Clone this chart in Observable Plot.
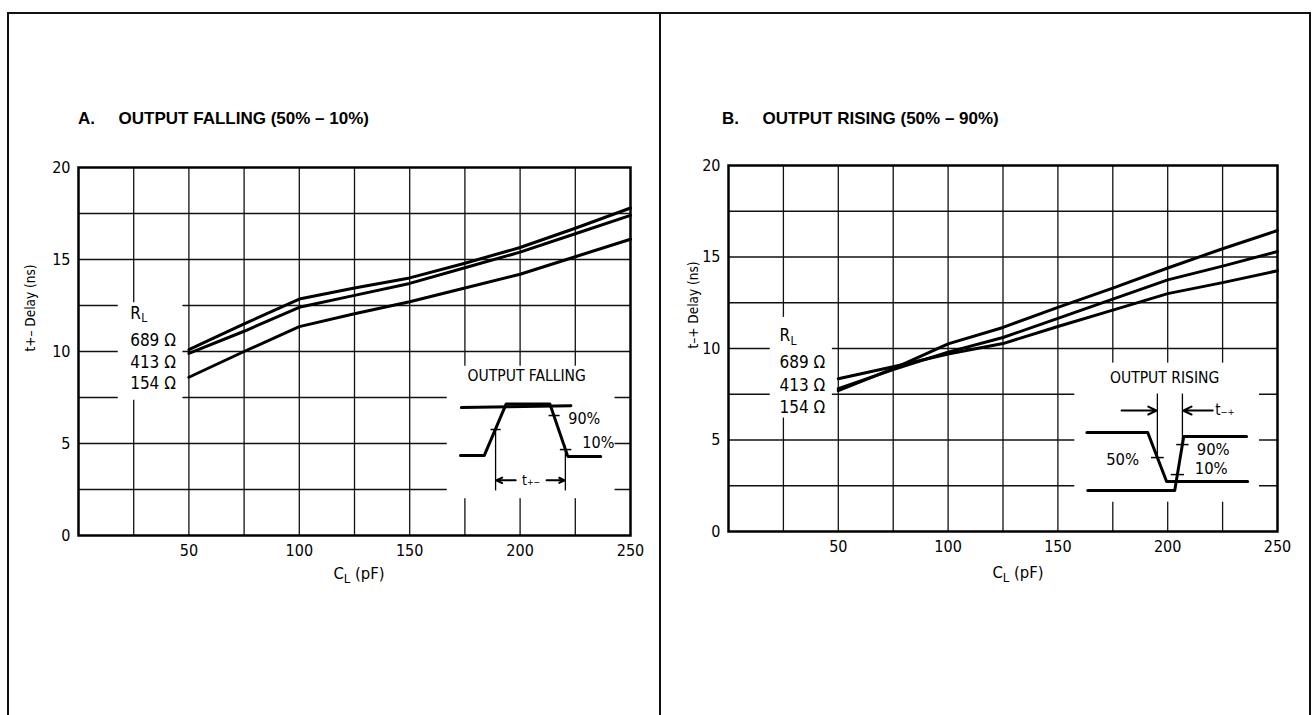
<!DOCTYPE html>
<html><head><meta charset="utf-8">
<script src="https://cdn.jsdelivr.net/npm/d3@7"></script>
<script src="https://cdn.jsdelivr.net/npm/@observablehq/plot@0.6"></script>
<style>
body{margin:0;background:#fff;}
#page{position:relative;width:1312px;height:715px;overflow:hidden;background:#fff;color:#000;font-family:"Liberation Sans",Arial,sans-serif}
.bd{position:absolute;background:#111}
.title{position:absolute;font-weight:bold;font-size:17px;white-space:pre;line-height:1;transform:translateY(-50%)}
.chart{position:absolute;top:140px}
.xlab{position:absolute;font-family:"Liberation Sans Narrow","DejaVu Sans Condensed",sans-serif;font-size:16.5px;white-space:nowrap;transform:translate(-50%,-50%)}
.xlab sub{font-size:13px;vertical-align:-4px;line-height:0}
</style></head>
<body><div id="page">
<div class="bd" style="left:7px;top:12px;width:1304px;height:2px"></div>
<div class="bd" style="left:7px;top:12px;width:2px;height:703px"></div>
<div class="bd" style="left:659px;top:12px;width:2px;height:703px"></div>
<div class="bd" style="left:1309px;top:12px;width:2px;height:703px"></div>
<div class="title" id="tA" style="left:78px;top:118px"></div>
<div class="title" id="tB" style="left:722px;top:118px"></div>
<div class="xlab" style="left:359px;top:573px">C<sub>L</sub> (pF)</div>
<div class="xlab" style="left:1018px;top:572px">C<sub>L</sub> (pF)</div>
</div>
<script>
// ---------- data ----------
const titleA = "A.     OUTPUT FALLING (50% \u2013 10%)";
const titleB = "B.     OUTPUT RISING (50% \u2013 90%)";
const yLabelA = "t+\u2013 Delay (ns)";
const yLabelB = "t\u2013+ Delay (ns)";
const xTicks = [50, 100, 150, 200, 250];
const yTicks = [0, 5, 10, 15, 20];
const gridX = [25, 50, 75, 100, 125, 150, 175, 200, 225];
const gridY = [2.5, 5, 7.5, 10, 12.5, 15, 17.5];
const loads = ["689 \u03a9", "413 \u03a9", "154 \u03a9"];
const capacitance = [50, 75, 100, 125, 150, 175, 200, 225, 250];
// A: output falling, t+- delay (ns)
const fallA689 = [10.1, 11.5, 12.85, 13.45, 14.0, 14.8, 15.65, 16.7, 17.8];
const fallA413 = [9.9, 11.1, 12.4, 13.05, 13.7, 14.55, 15.4, 16.4, 17.4];
const fallA154 = [8.6, 10.0, 11.35, 12.05, 12.7, 13.45, 14.2, 15.15, 16.1];
// B: output rising, t-+ delay (ns)
const riseB689 = [7.7, 8.9, 10.25, 11.15, 12.25, 13.3, 14.4, 15.45, 16.45];
const riseB413 = [7.8, 8.85, 9.8, 10.6, 11.65, 12.7, 13.75, 14.5, 15.3];
const riseB154 = [8.35, 9.0, 9.7, 10.27, 11.2, 12.1, 13.0, 13.6, 14.25];
// legend blocks (data units)
const legendBoxA = [18, 47.3, 7.35, 12.65];
const legendPosA = {x: 23.4, yR: 12.07, y: [10.6, 9.4, 8.26]};
const legendBoxB = [19, 47.3, 6.2, 11.7];
const legendPosB = {x: 23.2, yR: 10.7, y: [9.23, 7.98, 6.78]};
// inset A: "OUTPUT FALLING" waveform sketch
const insetBoxA = [167, 243, 2.0, 9.2];
const pulseAx = [173, 183.8, 193.7, 213.5, 221.6, 236.5];
const pulseAy = [4.35, 4.35, 7.15, 7.15, 4.3, 4.3];
const refAx = [173.4, 223];
const refAy = [6.95, 7.05];
const tickAx1 = [186.6, 212.9, 218.0];
const tickAx2 = [191.2, 217.9, 223.2];
const tickAy = [5.76, 6.52, 4.67];
const markAx = [188.9, 220.5];
const markAy1 = [5.76, 4.9];
const markAy2 = [2.45, 2.45];
const arrowAx1 = [198, 212];
const arrowAx2 = [189.2, 220.2];
const arrowAy = 3.0;
// inset B: "OUTPUT RISING" waveform sketch
const insetBoxB = [157.7, 241.8, 1.6, 9.2];
const waveB1x = [163.2, 190.9, 199.5, 236.4];
const waveB1y = [5.41, 5.41, 2.73, 2.73];
const waveB2x = [163.6, 203.2, 207.3, 235.9];
const waveB2y = [2.24, 2.24, 5.19, 5.19];
const tickBx1 = [192.4, 203.9, 201.4];
const tickBx2 = [198.2, 209.5, 207.4];
const tickBy = [4.04, 4.75, 3.11];
const markBx = [195.3, 206.7];
const markBy1 = [4.04, 4.75];
const markBy2 = [7.54, 7.54];
const arrowBx1 = [179, 220.5];
const arrowBx2 = [195.0, 207.0];
const arrowBy = 6.61;

document.getElementById("tA").textContent = titleA;
document.getElementById("tB").textContent = titleB;

const condensed = '"Liberation Sans Narrow","DejaVu Sans Condensed",sans-serif';

function rowsFrom(series) {
  const out = [];
  series.forEach((vals, i) => vals.forEach((v, j) => out.push({r: loads[i], c: capacitance[j], t: v})));
  return out;
}

function chart(cfg) {
  const box = b => ({x1: b[0], x2: b[1], y1: b[2], y2: b[3]});
  const legendRows = loads.map((l, i) => ({text: l, x: cfg.legendPos.x, y: cfg.legendPos.y[i]}));
  return Plot.plot({
    width: cfg.width, height: 460,
    marginLeft: cfg.ml, marginRight: cfg.mr, marginTop: cfg.mt, marginBottom: cfg.mb,
    x: {domain: [0, 250]},
    y: {domain: [0, 20]},
    style: {fontFamily: condensed, fontSize: "16px", color: "#000", background: "transparent", overflow: "visible"},
    marks: [
      Plot.ruleX(gridX, {stroke: "#111", strokeWidth: 1.3}),
      Plot.ruleY(gridY, {stroke: "#111", strokeWidth: 1.3}),
      Plot.rect([box(cfg.legendBox), box(cfg.insetBox)], {x1: "x1", x2: "x2", y1: "y1", y2: "y2", fill: "white"}),
      Plot.frame({stroke: "#000", strokeWidth: 2.5}),
      Plot.line(rowsFrom(cfg.series), {x: "c", y: "t", z: "r", stroke: "#000", strokeWidth: 3}),
      Plot.axisX({ticks: xTicks, tickSize: 0, tickPadding: 9, label: null, fontSize: 16}),
      Plot.axisY({ticks: yTicks, tickSize: 0, tickPadding: 8, label: null, fontSize: 16}),
      Plot.text([cfg.yLabel], {frameAnchor: "left", dx: -cfg.labelOffset, rotate: -90, fontSize: 13.5}),
      // legend
      Plot.text(["R"], {x: cfg.legendPos.x, y: cfg.legendPos.yR, textAnchor: "start", fontSize: 17}),
      Plot.text(["L"], {x: cfg.legendPos.x, y: cfg.legendPos.yR, textAnchor: "start", dx: 11, dy: 5, fontSize: 12}),
      Plot.text(legendRows, {x: "x", y: "y", text: "text", textAnchor: "start", fontSize: 17}),
      ...cfg.inset
    ]
  });
}

const segs = (x1, x2, y1, y2) => x1.map((_, i) => ({x1: x1[i], x2: x2[i], y1: Array.isArray(y1) ? y1[i] : y1, y2: Array.isArray(y2) ? y2[i] : y2}));
const pts = (xs, ys) => xs.map((x, i) => ({x, y: ys[i]}));

const insetA = [
  Plot.line(pts(refAx, refAy), {x: "x", y: "y", stroke: "#000", strokeWidth: 3}),
  Plot.line(pts(pulseAx, pulseAy), {x: "x", y: "y", stroke: "#000", strokeWidth: 3}),
  Plot.link(segs(tickAx1, tickAx2, tickAy, tickAy), {x1: "x1", x2: "x2", y1: "y1", y2: "y2", stroke: "#000", strokeWidth: 1.5}),
  Plot.link(segs(markAx, markAx, markAy1, markAy2), {x1: "x1", x2: "x2", y1: "y1", y2: "y2", stroke: "#000", strokeWidth: 1.3}),
  Plot.arrow(segs(arrowAx1, arrowAx2, arrowAy, arrowAy), {x1: "x1", x2: "x2", y1: "y1", y2: "y2", stroke: "#000", strokeWidth: 2, headLength: 7, headAngle: 50}),
  Plot.text(["t\u208a\u208b"], {x: 205, y: arrowAy, fontSize: 14}),
  Plot.text(["OUTPUT FALLING"], {x: 203, y: 8.64, fontSize: 15.5}),
  Plot.text(["90%"], {x: 221.8, y: 6.36, textAnchor: "start", fontSize: 16}),
  Plot.text(["10%"], {x: 228.2, y: 5.05, textAnchor: "start", fontSize: 16})
];

const insetB = [
  Plot.line(pts(waveB1x, waveB1y), {x: "x", y: "y", stroke: "#000", strokeWidth: 3}),
  Plot.line(pts(waveB2x, waveB2y), {x: "x", y: "y", stroke: "#000", strokeWidth: 3}),
  Plot.link(segs(tickBx1, tickBx2, tickBy, tickBy), {x1: "x1", x2: "x2", y1: "y1", y2: "y2", stroke: "#000", strokeWidth: 1.5}),
  Plot.link(segs(markBx, markBx, markBy1, markBy2), {x1: "x1", x2: "x2", y1: "y1", y2: "y2", stroke: "#000", strokeWidth: 1.3}),
  Plot.arrow(segs(arrowBx1, arrowBx2, arrowBy, arrowBy), {x1: "x1", x2: "x2", y1: "y1", y2: "y2", stroke: "#000", strokeWidth: 2, headLength: 7, headAngle: 50}),
  Plot.text(["t\u208b\u208a"], {x: 221.6, y: arrowBy, textAnchor: "start", fontSize: 15}),
  Plot.text(["OUTPUT RISING"], {x: 198.6, y: 8.36, fontSize: 15.5}),
  Plot.text(["50%"], {x: 179.5, y: 3.93, fontSize: 16.5}),
  Plot.text(["90%"], {x: 213.2, y: 4.48, textAnchor: "start", fontSize: 16.5}),
  Plot.text(["10%"], {x: 212.3, y: 3.44, textAnchor: "start", fontSize: 16.5})
];

const a = chart({width: 660, ml: 78, mr: 30, mt: 27, mb: 65,
  series: [fallA689, fallA413, fallA154], legendBox: legendBoxA, legendPos: legendPosA,
  insetBox: insetBoxA, yLabel: yLabelA, labelOffset: 48, inset: insetA});
a.classList.add("chart"); a.style.left = "0px";
const b = chart({width: 652, ml: 68, mr: 35, mt: 25, mb: 69,
  series: [riseB689, riseB413, riseB154], legendBox: legendBoxB, legendPos: legendPosB,
  insetBox: insetBoxB, yLabel: yLabelB, labelOffset: 35, inset: insetB});
b.classList.add("chart"); b.style.left = "660px";
document.getElementById("page").append(a, b);
</script>
</body></html>
